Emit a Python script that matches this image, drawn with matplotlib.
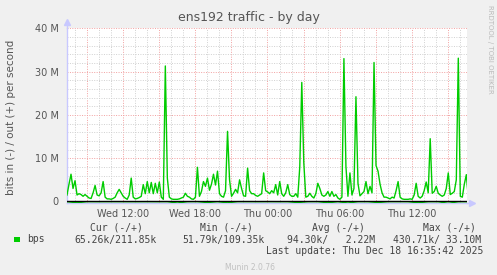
import matplotlib
matplotlib.use("Agg")
import matplotlib.pyplot as plt
from matplotlib.patches import Rectangle
import numpy as np

# ---- data (values in Mbit/s) ----
out_mbps = [
    1.5, 4.0, 6.3, 3.0, 4.8, 1.5, 1.8, 1.6, 1.2, 1.6,
    1.2, 0.8, 0.7, 2.0, 3.7, 1.5, 1.3, 2.0, 4.6, 1.0,
    0.6, 0.6, 0.5, 0.7, 1.0, 2.0, 2.8, 2.0, 1.2, 0.8,
    0.5, 1.5, 5.4, 1.0, 0.6, 0.7, 0.9, 1.2, 3.9, 1.8,
    4.6, 2.0, 4.4, 1.8, 4.2, 2.0, 4.5, 1.0, 0.5, 31.3,
    5.4, 1.0, 0.6, 0.5, 0.5, 0.5, 0.6, 0.8, 1.0, 1.9,
    1.2, 1.0, 0.6, 0.5, 1.0, 7.9, 1.2, 2.3, 4.6, 3.5,
    5.4, 2.6, 4.0, 6.3, 3.8, 7.0, 1.8, 1.2, 1.0, 2.5,
    16.2, 5.0, 1.2, 1.9, 2.8, 2.0, 5.0, 3.0, 1.3, 1.2,
    7.7, 2.5, 1.8, 1.8, 1.4, 1.2, 1.5, 1.8, 6.6, 2.5,
    2.2, 1.8, 2.5, 2.0, 3.9, 1.5, 4.6, 1.8, 1.2, 2.0,
    3.9, 1.6, 1.2, 1.2, 1.8, 1.0, 8.0, 27.5, 9.0, 1.0,
    1.2, 1.9, 1.2, 0.8, 1.8, 4.2, 3.0, 1.5, 1.2, 1.5,
    2.3, 1.2, 2.3, 1.2, 1.6, 0.8, 0.5, 1.0, 33.0, 8.1,
    1.2, 6.6, 1.5, 3.0, 24.2, 4.2, 1.3, 1.8, 2.3, 4.6,
    1.8, 3.5, 2.0, 32.1, 8.3, 7.0, 4.0, 2.0, 1.0, 1.0,
    0.8, 0.6, 1.0, 0.8, 2.5, 4.6, 1.0, 0.6, 0.5, 0.5,
    0.5, 0.6, 0.5, 1.5, 4.2, 1.2, 0.8, 1.2, 2.5, 4.5,
    2.0, 14.5, 1.9, 2.3, 3.5, 1.9, 1.5, 1.2, 1.5, 3.0,
    6.6, 1.6, 1.9, 2.3, 5.0, 33.1, 1.2, 1.0, 4.0, 6.2,
    0.8,
]
in_mbps = [
    0.04, 0.30, 0.04, 0.05, 0.04, 0.04, 0.05, 0.05, 0.04, 0.05,
    0.04, 0.35, 0.05, 0.04, 0.25, 0.05, 0.30, 0.04, 0.04, 0.05,
    0.04, 0.05, 0.05, 0.25, 0.05, 0.04, 0.30, 0.05, 0.35, 0.05,
    0.05, 0.25, 0.04, 0.04, 0.05, 0.30, 0.05, 0.05, 0.43, 0.05,
    0.05,
]
start_hour = 7.35          # Wed 07:21 (hours since Wed 00:00)
out_step_min = 10
in_step_min = 50

ytick_vals = [0, 10, 20, 30, 40]
ytick_labels = ["0", "10 M", "20 M", "30 M", "40 M"]
xtick_hours = [12, 18, 24, 30, 36]
xtick_labels = ["Wed 12:00", "Wed 18:00", "Thu 00:00", "Thu 06:00", "Thu 12:00"]

legend_headers = ["Cur (-/+)", "Min (-/+)", "Avg (-/+)", "Max (-/+)"]
legend_values = ["65.26k/211.85k", "51.79k/109.35k", "94.30k/   2.22M", "430.71k/ 33.10M"]

# ---- figure ----
W, H = 497, 275
fig = plt.figure(figsize=(W / 100, H / 100), dpi=100, facecolor="#F0F0F0")

def fx(px):
    return px / W

def fy(py):
    return 1 - py / H

y_lo, y_hi = -0.35, 40
ax_left, ax_right = 67, 467
ax_top = 28.3
ax_bottom = 203.0
ax = fig.add_axes([fx(ax_left), fy(ax_bottom), (ax_right - ax_left) / W, (ax_bottom - ax_top) / H])
ax.set_facecolor("white")

x_end = start_hour + (ax_right - ax_left) / 12.04
ax.set_xlim(start_hour, x_end)
ax.set_ylim(y_lo, y_hi)

# grid
for h in np.arange(8, 41, 1):
    col = "#f2a0a0" if h % 3 == 0 else "#d0d0d0"
    ax.axvline(h, color=col, lw=0.7, ls=(0, (1, 1.5)), zorder=1)
for v in np.arange(2, 41, 2):
    col = "#f2a0a0" if v % 10 == 0 else "#d0d0d0"
    ax.axhline(v, color=col, lw=0.7, ls=(0, (1, 1.5)), zorder=1)

t_out = start_hour + np.arange(len(out_mbps)) * out_step_min / 60
t_in = start_hour + np.arange(len(in_mbps)) * in_step_min / 60
ax.plot(t_in, -np.array(in_mbps), color="#00CC00", lw=1.0, zorder=3)
ax.axhline(0, color="black", lw=1.0, zorder=4)
ax.plot(t_out, out_mbps, color="#00CC00", lw=1.0, zorder=5)

ax.set_yticks(ytick_vals)
ax.set_yticklabels(ytick_labels)
ax.set_xticks(xtick_hours)
ax.set_xticklabels(xtick_labels)
ax.tick_params(axis="both", length=0, labelsize=7, colors="#555555")
ax.tick_params(axis="y", pad=6)
ax.tick_params(axis="x", pad=4)
for s in ["top", "right"]:
    ax.spines[s].set_visible(False)
for s in ["left", "bottom"]:
    ax.spines[s].set_color("#c8c8ff")
    ax.spines[s].set_linewidth(1.0)
ax.plot([0, 0], [1, 1.035], color="#c8c8ff", lw=1, transform=ax.transAxes, clip_on=False)
ax.plot(0, 1.035, marker="^", ms=4, color="#c8c8ff", transform=ax.transAxes, clip_on=False)
ax.plot([1, 1.012], [0, 0], color="#c8c8ff", lw=1, transform=ax.transAxes, clip_on=False)
ax.plot(1.012, 0, marker=">", ms=4, color="#c8c8ff", transform=ax.transAxes, clip_on=False)

# texts
fig.text(fx(249), fy(18), "ens192 traffic - by day", ha="center", va="center",
         fontsize=9, color="#555555")
fig.text(fx(11), fy(117), "bits in (-) / out (+) per second", ha="center", va="center",
         rotation=90, fontsize=7.5, color="#555555")
fig.text(fx(490), fy(5), "RRDTOOL / TOBI OETIKER", ha="center", va="top",
         rotation=270, fontsize=5, color="#bbbbbb")

mono = "DejaVu Sans Mono"
hdr_cx = [116, 226, 338, 449]
val_cx = [115.5, 223, 331.5, 437]
for c, t in zip(hdr_cx, legend_headers):
    fig.text(fx(c), fy(228), t, ha="center", va="center", fontsize=7, family=mono, color="#444444")
for c, t in zip(val_cx, legend_values):
    fig.text(fx(c), fy(239.5), t, ha="center", va="center", fontsize=7, family=mono, color="#444444")
fig.add_artist(Rectangle((fx(14), fy(242)), 5.5 / W, 5.5 / H, transform=fig.transFigure,
                         facecolor="#00CC00", edgecolor="none"))
fig.text(fx(27), fy(239.5), "bps", ha="left", va="center", fontsize=7, family=mono, color="#444444")
fig.text(fx(483), fy(251), "Last update: Thu Dec 18 16:35:42 2025", ha="right", va="center",
         fontsize=7, family=mono, color="#444444")
fig.text(fx(250), fy(267), "Munin 2.0.76", ha="center", va="center", fontsize=5.5, color="#c0c0c0")

fig.savefig("out.png", dpi=100, facecolor=fig.get_facecolor())
